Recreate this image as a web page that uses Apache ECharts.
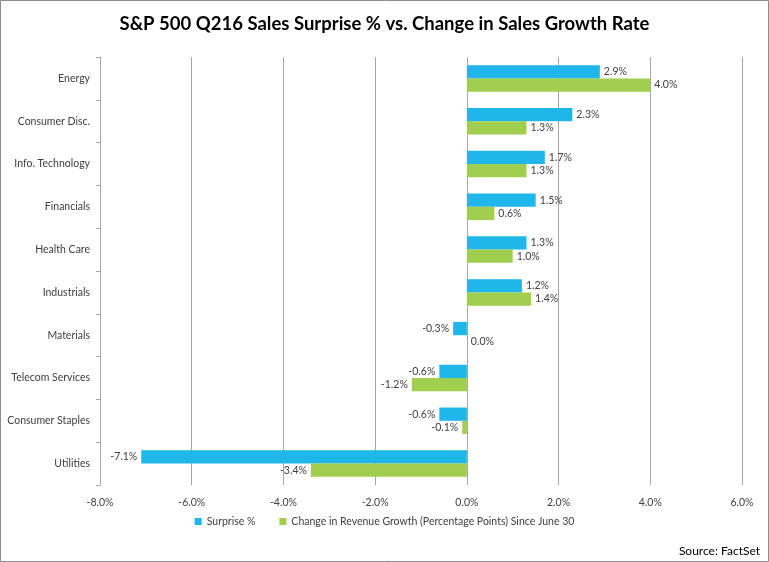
<!DOCTYPE html>
<html lang="en">
<head>
    <meta charset="UTF-8">
    <title>S&amp;P 500 Q216 Sales Surprise</title>
    <style>
        html, body { margin: 0; padding: 0; background: #fff; }
    </style>
</head>
<body onload="setup()">
    <div id="BarChart" style="width: 769px; height: 562px;"></div>
    <script src="https://cdn.jsdelivr.net/npm/echarts@6/dist/echarts.min.js"></script>
    <script>
        var sectors = ['Energy', 'Consumer Disc.', 'Info. Technology', 'Financials', 'Health Care',
            'Industrials', 'Materials', 'Telecom Services', 'Consumer Staples', 'Utilities']
        var surprise = [2.9, 2.3, 1.7, 1.5, 1.3, 1.2, -0.3, -0.6, -0.6, -7.1]
        var growthChange = [4.0, 1.3, 1.3, 0.6, 1.0, 1.4, 0.0, -1.2, -0.1, -3.4]
        var seriesNames = ['Surprise %', 'Change in Revenue Growth (Percentage Points) Since June 30']

        var BarChart
        function setup() {
            BarChart = echarts.init(document.getElementById('BarChart'))
            BarChart.setOption(barChartOption, true)
        }

        function pct(v) {
            return v.toFixed(1) + '%'
        }

        // label goes outside the bar end, left side for negatives
        function withLabels(values) {
            return values.map(v => ({
                value: v,
                label: { position: v < 0 ? 'left' : 'right' }
            }))
        }

        function newSeries(name, color, values) {
            return {
                name: name,
                type: 'bar',
                barGap: '0%',
                barCategoryGap: '38%',
                itemStyle: { color: color },
                label: {
                    show: true,
                    formatter: p => pct(p.value),
                    color: '#404040',
                    fontSize: 10.5,
                    distance: 4,
                    fontFamily: 'Lato'
                },
                data: withLabels(values)
            }
        }

        var labelFont = { fontFamily: 'Lato', fontSize: 10.5, color: '#404040' }

        var barChartOption = {
            animation: false,
            textStyle: { fontFamily: 'Lato' },
            title: {
                text: 'S&P 500 Q216 Sales Surprise % vs. Change in Sales Growth Rate',
                left: 'center',
                top: 10,
                textStyle: { fontFamily: 'Lato', fontSize: 18.5, fontWeight: 'bold', color: '#000' }
            },
            legend: {
                bottom: 30,
                left: 'center',
                itemWidth: 7,
                itemHeight: 7,
                itemGap: 24,
                icon: 'rect',
                textStyle: { fontFamily: 'Lato', fontSize: 10.5, color: '#404040' },
                data: seriesNames
            },
            grid: { left: 100, right: 27, top: 57, bottom: 77 },
            xAxis: {
                type: 'value',
                min: -8,
                max: 6,
                interval: 2,
                axisLine: { show: false },
                axisTick: { show: false },
                axisLabel: Object.assign({ formatter: v => pct(v), margin: 12 }, labelFont),
                splitLine: { show: true, lineStyle: { color: '#a6a6a6', width: 1 } }
            },
            yAxis: [{
                type: 'category',
                inverse: true,
                data: sectors,
                position: 'left',
                axisLine: { show: false },
                axisTick: { show: false },
                axisLabel: Object.assign({ margin: 10 }, labelFont)
            }, {
                // zero line with category ticks, no labels
                type: 'category',
                inverse: true,
                data: sectors,
                position: 'left',
                axisLine: { show: true, onZero: true, lineStyle: { color: '#a6a6a6' } },
                axisTick: { show: true, length: 4, lineStyle: { color: '#a6a6a6' } },
                axisLabel: { show: false }
            }],
            graphic: [{
                type: 'rect',
                shape: { x: 0.5, y: 0.5, width: 768, height: 561 },
                style: { fill: 'none', stroke: '#8c8c8c', lineWidth: 1 },
                silent: true
            }, {
                type: 'text',
                right: 9,
                bottom: 5,
                style: { text: 'Source: FactSet', font: '12px Lato', fill: '#000' }
            }],
            series: [
                newSeries(seriesNames[0], '#1fb6ea', surprise),
                newSeries(seriesNames[1], '#a0ce4e', growthChange)
            ]
        }
    </script>
</body>
</html>
